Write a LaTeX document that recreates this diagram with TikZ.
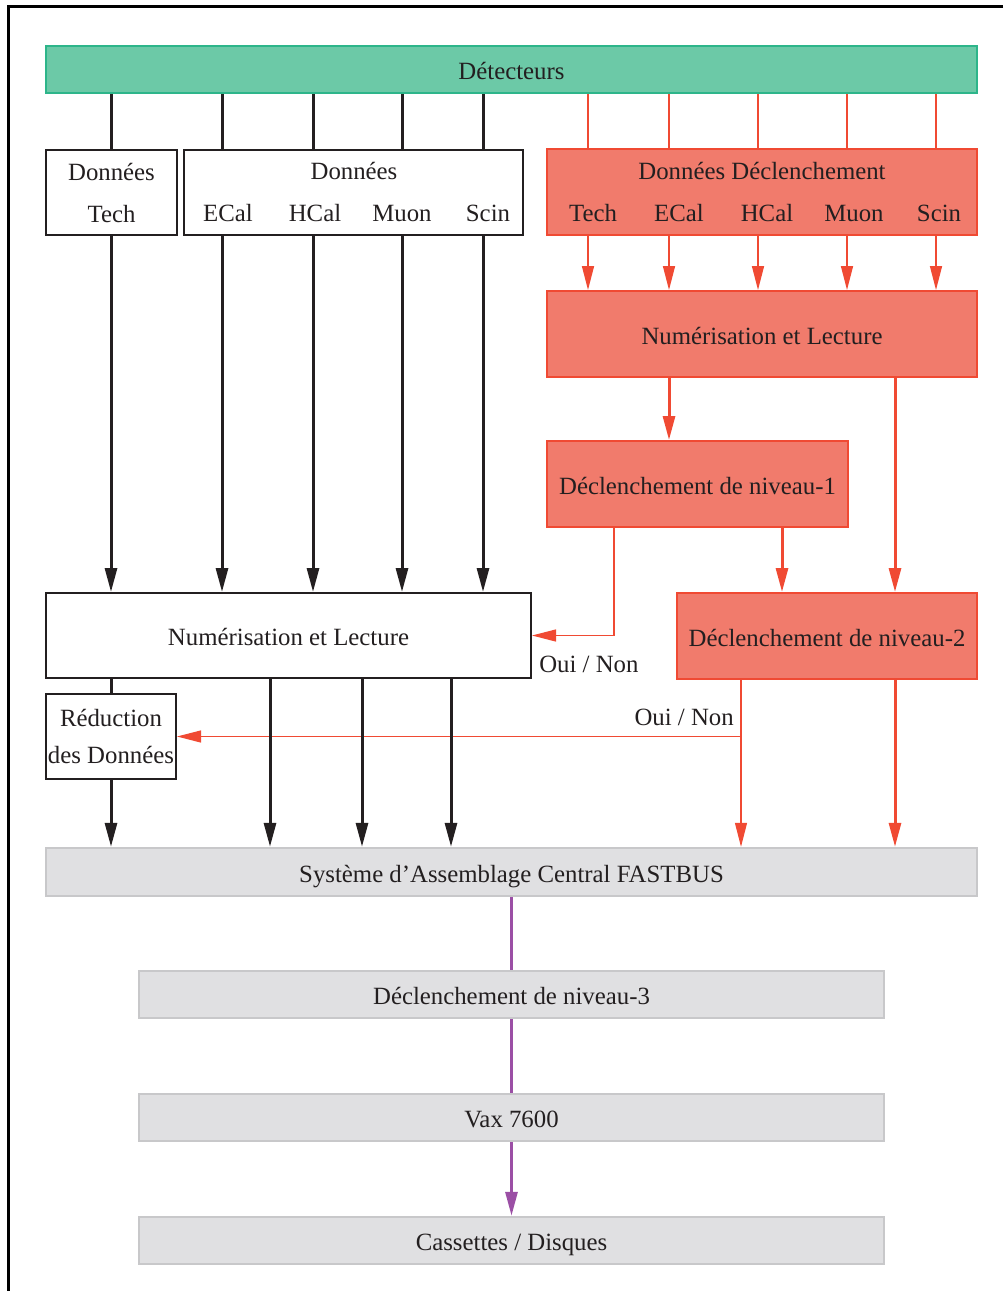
\documentclass[tikz,border=0pt]{standalone}
\usepackage{fontspec}
\setmainfont{Liberation Serif}
\usepackage{xcolor}
\usetikzlibrary{arrows.meta}
\definecolor{ink}{HTML}{231F20}
\definecolor{detgreen}{HTML}{2DB58A}
\definecolor{detfill}{HTML}{6CC9A7}
\definecolor{trigred}{HTML}{F04A33}
\definecolor{trigfill}{HTML}{F17B6C}
\definecolor{sysgrey}{HTML}{C8C8CA}
\definecolor{sysfill}{HTML}{E0E0E2}
\definecolor{daqpurple}{HTML}{9B4FA5}
\tikzstyle{oneline} = [text height=10.5pt, text depth=0.5pt]
\tikzstyle{detbox} = [rectangle, draw=detgreen, fill=detfill, line width=1pt, inner sep=0pt, minimum width=465.5pt, minimum height=23.5pt, oneline]
\tikzstyle{databox} = [rectangle, draw=ink, fill=white, line width=1pt, inner sep=0pt, align=center, minimum height=42.5pt]
\tikzstyle{trigbox} = [rectangle, draw=trigred, fill=trigfill, line width=1pt, inner sep=0pt, align=center, minimum height=43pt, oneline]
\tikzstyle{daqbox} = [rectangle, draw=sysgrey, fill=sysfill, line width=1.2pt, inner sep=0pt, minimum height=23.5pt, oneline]
\tikzstyle{dataline} = [line width=1.5pt, color=ink]
\tikzstyle{dataflow} = [dataline, -{Triangle[length=12pt, width=6pt]}]
\tikzstyle{trigline} = [line width=0.75pt, color=trigred]
\tikzstyle{trigflow} = [trigline, -{Triangle[length=12pt, width=6pt]}]
\tikzstyle{trigbus} = [line width=1.5pt, color=trigred, -{Triangle[length=12pt, width=6pt]}]
\tikzstyle{answer} = [line width=0.6pt, color=trigred, -{Triangle[length=12pt, width=6pt]}]
\tikzstyle{daqline} = [line width=1.5pt, color=daqpurple]
\tikzstyle{daqflow} = [daqline, -{Triangle[length=12pt, width=6pt]}]
\begin{document}
\begin{tikzpicture}[x=0.5pt, y=-0.5pt, font=\fontsize{12.4}{21}\selectfont, every node/.append style={text=ink}]
\useasboundingbox (0,0) rectangle (1003,1291);
\draw[line width=1.5pt] (1003,6.5) -- (8.5,6.5) -- (8.5,1291);

% columns
\coordinate (kTech) at (111,0);
\coordinate (kEcal) at (222,0);
\coordinate (kHcal) at (313,0);
\coordinate (kMuon) at (402,0);
\coordinate (kScin) at (483,0);
\coordinate (rTech) at (588,0);
\coordinate (rEcal) at (669,0);
\coordinate (rHcal) at (758,0);
\coordinate (rMuon) at (847,0);
\coordinate (rScin) at (936,0);
\coordinate (rL1) at (782,0);
\coordinate (rL2) at (895,0);
\coordinate (yes1) at (614,0);
\coordinate (yes2) at (741,0);
\coordinate (kOut1) at (270,0);
\coordinate (kOut2) at (362,0);
\coordinate (kOut3) at (451,0);

\node (det) [detbox] at (511.5,69.5) {D\'etecteurs};

\node (dt) [databox, minimum width=65.5pt] at (111.5,192.5) {Donn\'ees\\Tech};
\node (dd) [databox, minimum width=169.5pt] at (353.5,192.5) {};
\node (ddTitle) at (354,171) {Donn\'ees};
\node (ddEcal) at (228,213) {ECal};
\node (ddHcal) at (315,213) {HCal};
\node (ddMuon) at (402,213) {Muon};
\node (ddScin) at (488,213) {Scin};

\node (tdd) [trigbox, minimum width=215pt] at (762,192) {};
\node (tddTitle) at (762,171) {Donn\'ees D\'eclenchement};
\node (tddTech) at (593,213) {Tech};
\node (tddEcal) at (679,213) {ECal};
\node (tddHcal) at (767,213) {HCal};
\node (tddMuon) at (854,213) {Muon};
\node (tddScin) at (939,213) {Scin};

\node (tnum) [trigbox, minimum width=215pt] at (762,334) {Num\'erisation et Lecture};
\node (t1) [trigbox, minimum width=150.5pt] at (697.5,484) {D\'eclenchement de niveau-1};
\node (t2) [trigbox, minimum width=150pt] at (827,636) {D\'eclenchement de niveau-2};

\node (num) [databox, oneline, minimum width=242.5pt] at (288.5,635.5) {Num\'erisation et Lecture};
\node (red) [databox, minimum width=65pt, font=\fontsize{12.4}{18.5}\selectfont] at (111,736.5) {R\'eduction\\des Donn\'ees};

\node (sys) [daqbox, minimum width=465.5pt, minimum height=24pt] at (511.5,872) {Syst\`eme d'Assemblage Central FASTBUS};
\node (l3) [daqbox, minimum width=372.5pt] at (511.5,994.5) {D\'eclenchement de niveau-3};
\node (vax) [daqbox, minimum width=372.5pt] at (511.5,1117.5) {Vax 7600};
\node (cas) [daqbox, minimum width=372.5pt] at (511.5,1240.5) {Cassettes / Disques};

\draw[dataline] (det.south -| kTech) -- (dt.north -| kTech);
\draw[dataline] (det.south -| kEcal) -- (dd.north -| kEcal);
\draw[dataline] (det.south -| kHcal) -- (dd.north -| kHcal);
\draw[dataline] (det.south -| kMuon) -- (dd.north -| kMuon);
\draw[dataline] (det.south -| kScin) -- (dd.north -| kScin);

\draw[dataflow] (dt.south -| kTech) -- (num.north -| kTech);
\draw[dataflow] (dd.south -| kEcal) -- (num.north -| kEcal);
\draw[dataflow] (dd.south -| kHcal) -- (num.north -| kHcal);
\draw[dataflow] (dd.south -| kMuon) -- (num.north -| kMuon);
\draw[dataflow] (dd.south -| kScin) -- (num.north -| kScin);

\draw[trigline] (det.south -| rTech) -- (tdd.north -| rTech);
\draw[trigline] (det.south -| rEcal) -- (tdd.north -| rEcal);
\draw[trigline] (det.south -| rHcal) -- (tdd.north -| rHcal);
\draw[trigline] (det.south -| rMuon) -- (tdd.north -| rMuon);
\draw[trigline] (det.south -| rScin) -- (tdd.north -| rScin);

\draw[trigflow] (tdd.south -| rTech) -- (tnum.north -| rTech);
\draw[trigflow] (tdd.south -| rEcal) -- (tnum.north -| rEcal);
\draw[trigflow] (tdd.south -| rHcal) -- (tnum.north -| rHcal);
\draw[trigflow] (tdd.south -| rMuon) -- (tnum.north -| rMuon);
\draw[trigflow] (tdd.south -| rScin) -- (tnum.north -| rScin);

\draw[trigbus] (tnum.south -| rEcal) -- (t1.north -| rEcal);
\draw[trigbus] (tnum.south -| rL2) -- (t2.north -| rL2);
\draw[trigbus] (t1.south -| rL1) -- (t2.north -| rL1);
\draw[trigbus] (t2.south -| rL2) -- (sys.north -| rL2);

\draw[answer] (t1.south -| yes1) |- node[pos=1, anchor=north west, yshift=-6.5pt]{Oui / Non} (num.east);
\draw[answer] (t2.south -| yes2) |- node[pos=0.5, anchor=south east, yshift=2pt]{Oui / Non} (red.east);
\draw[answer] (t2.south -| yes2) -- (sys.north -| yes2);

\draw[dataline] (num.south -| kTech) -- (red.north -| kTech);
\draw[dataflow] (red.south -| kTech) -- (sys.north -| kTech);
\draw[dataflow] (num.south -| kOut1) -- (sys.north -| kOut1);
\draw[dataflow] (num.south -| kOut2) -- (sys.north -| kOut2);
\draw[dataflow] (num.south -| kOut3) -- (sys.north -| kOut3);

\draw[daqline] (sys) -- (l3);
\draw[daqline] (l3) -- (vax);
\draw[daqflow] (vax) -- (cas);

\end{tikzpicture}
\end{document}
